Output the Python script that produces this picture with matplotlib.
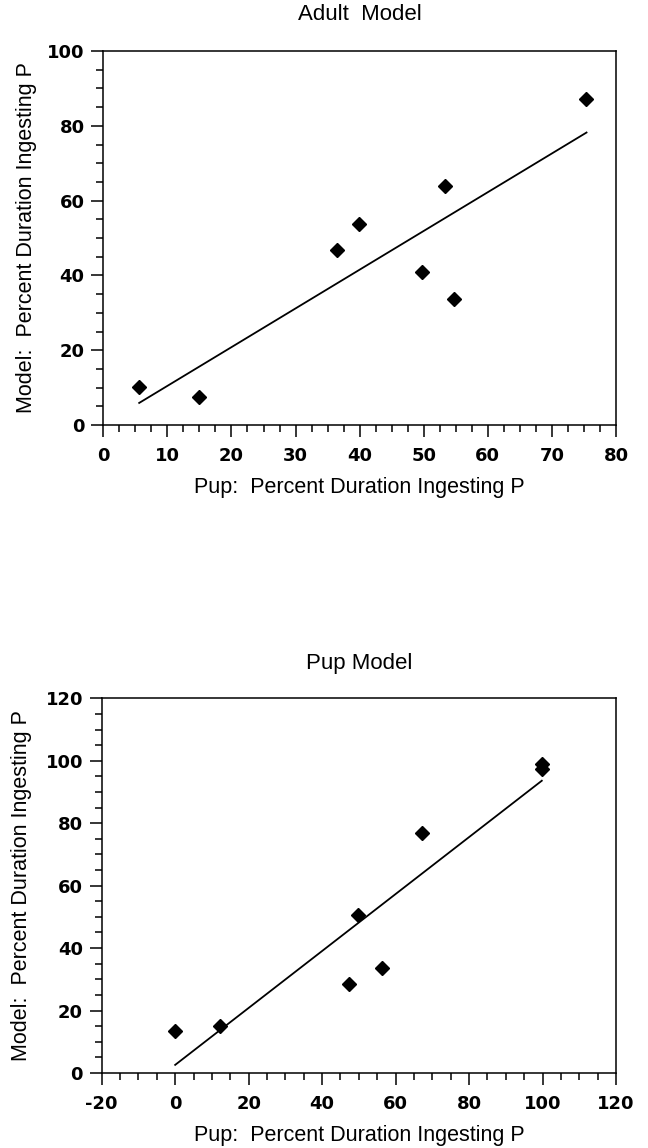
import matplotlib
matplotlib.use("Agg")
import matplotlib.pyplot as plt
from matplotlib.ticker import MultipleLocator, FixedLocator

plt.rcParams['axes.unicode_minus'] = False

# ---------------- data ----------------
adult_title = "Adult  Model"
adult_x = [5.6, 14.9, 36.4, 39.9, 49.8, 53.3, 54.8, 75.3]
adult_y = [10.2, 7.5, 46.8, 53.8, 40.8, 63.8, 33.7, 87.2]
adult_fit_x = [5.6, 75.4]
adult_fit_y = [5.9, 78.2]
adult_xticks = [0, 10, 20, 30, 40, 50, 60, 70, 80]
adult_yticks = [0, 20, 40, 60, 80, 100]

pup_title = "Pup Model"
pup_x = [0.0, 12.3, 47.4, 49.9, 56.3, 67.2, 99.8, 99.8]
pup_y = [13.5, 15.0, 28.5, 50.5, 33.5, 76.8, 99.0, 97.5]
pup_fit_x = [0.0, 99.8]
pup_fit_y = [2.6, 93.6]
pup_xticks = [-20, 0, 20, 40, 60, 80, 100, 120]
pup_yticks = [0, 20, 40, 60, 80, 100, 120]

xlabel = "Pup:  Percent Duration Ingesting P"
ylabel = "Model:  Percent Duration Ingesting P"

W, H = 648, 1148
fig = plt.figure(figsize=(W / 100, H / 100), dpi=100)

label_font = dict(family="Liberation Sans", size=15.5)
title_font = dict(family="Liberation Sans", size=16)
tick_font = dict(family="DejaVu Sans", weight="bold", size=13)


def setup(ax, xs, ys, fx, fy, xt, yt, xminor, yminor, title):
    ax.plot(fx, fy, color="black", lw=1.3, zorder=2)
    ax.plot(xs, ys, linestyle="none", marker="D", ms=7.3, color="black",
            zorder=3)
    ax.set_xlim(xt[0], xt[-1])
    ax.set_ylim(yt[0], yt[-1])
    ax.xaxis.set_major_locator(FixedLocator(xt))
    ax.yaxis.set_major_locator(FixedLocator(yt))
    ax.set_xticklabels([str(v) for v in xt], fontdict=tick_font)
    ax.set_yticklabels([str(v) for v in yt], fontdict=tick_font)
    ax.xaxis.set_minor_locator(MultipleLocator(xminor))
    ax.yaxis.set_minor_locator(MultipleLocator(yminor))
    ax.tick_params(which="major", direction="out", length=8.5, width=1.1,
                   color="black")
    ax.tick_params(which="minor", direction="out", length=5, width=1.1,
                   color="black")
    ax.tick_params(axis="x", which="major", pad=7)
    ax.tick_params(axis="y", which="major", pad=5)
    ax.tick_params(top=False, right=False, which="both")
    for s in ax.spines.values():
        s.set_linewidth(1.1)
        s.set_color("black")
    ax.set_xlabel(xlabel, fontdict=label_font, va="center")
    ax.set_ylabel(ylabel, fontdict=label_font, va="center")
    ax.set_title(title, fontdict=title_font, y=1.075, va="center")


ax1 = fig.add_axes([103.3 / W, 1 - 425 / H, (616 - 103.3) / W, 374 / H])
setup(ax1, adult_x, adult_y, adult_fit_x, adult_fit_y, adult_xticks,
      adult_yticks, 2.5, 5, adult_title)
ax1.xaxis.set_label_coords(0.5, -63 / 374)
ax1.yaxis.set_label_coords((27 - 103.3) / 512.7, 0.5)

ax2 = fig.add_axes([101.7 / W, 1 - 1073 / H, (616 - 101.7) / W, 374.7 / H])
setup(ax2, pup_x, pup_y, pup_fit_x, pup_fit_y, pup_xticks, pup_yticks,
      5, 5, pup_title)
ax2.xaxis.set_label_coords(0.5, -62 / 374.7)
ax2.yaxis.set_label_coords((21 - 101.7) / 514.3, 0.5)
ax2.title.set_y(1.07)

fig.savefig("out.png", dpi=100)
